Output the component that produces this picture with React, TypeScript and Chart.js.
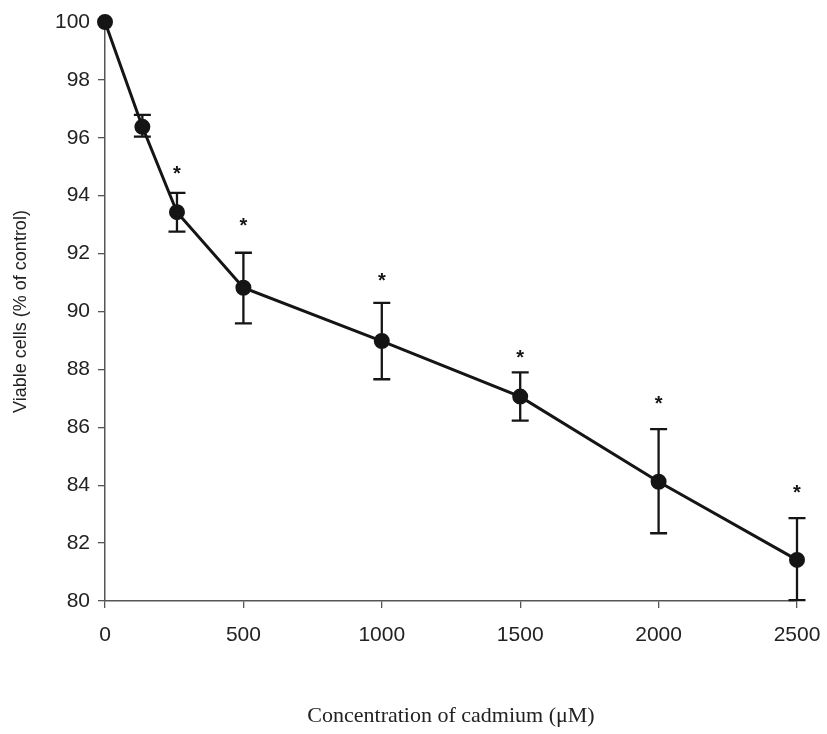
import React, { useEffect, useRef } from "react";
import { Chart, registerables } from "chart.js";

Chart.register(...registerables);

const concentrations = [0, 135, 260, 500, 1000, 1500, 2000, 2500];
const viableCells = [100, 96.38, 93.43, 90.82, 88.98, 87.06, 84.12, 81.42];
const errorHigh = [null, 96.79, 94.1, 92.03, 90.3, 87.9, 85.94, 82.86];
const errorLow = [null, 96.04, 92.76, 89.59, 87.66, 86.23, 82.34, 80.03];
const starMarks = [null, null, 94.89, 93.1, 91.2, 88.55, 86.97, 83.9];
const xTicks = [0, 500, 1000, 1500, 2000, 2500];
const yTicks = [80, 82, 84, 86, 88, 90, 92, 94, 96, 98, 100];

const INK = "#151515";

const errorBarPlugin = {
  id: "errorBars",
  afterDatasetsDraw(chart: any) {
    const { ctx, scales } = chart;
    const xs = scales.x;
    const ys = scales.y;
    ctx.save();
    ctx.strokeStyle = INK;
    ctx.lineWidth = 2.3;
    concentrations.forEach((c, i) => {
      const hi = errorHigh[i];
      const lo = errorLow[i];
      if (hi == null || lo == null) return;
      const x = xs.getPixelForValue(c);
      const yh = ys.getPixelForValue(hi);
      const yl = ys.getPixelForValue(lo);
      ctx.beginPath();
      ctx.moveTo(x, yh);
      ctx.lineTo(x, yl);
      ctx.moveTo(x - 8.5, yh);
      ctx.lineTo(x + 8.5, yh);
      ctx.moveTo(x - 8.5, yl);
      ctx.lineTo(x + 8.5, yl);
      ctx.stroke();
    });
    ctx.fillStyle = INK;
    ctx.font = "bold 20px 'Liberation Sans', Arial, sans-serif";
    ctx.textAlign = "center";
    ctx.textBaseline = "middle";
    concentrations.forEach((c, i) => {
      const s = starMarks[i];
      if (s == null) return;
      const x = xs.getPixelForValue(c);
      const y = ys.getPixelForValue(s);
      ctx.fillText("*", x, y + 5);
    });
    ctx.restore();
  },
};

export default function App() {
  const canvasRef = useRef<HTMLCanvasElement | null>(null);

  useEffect(() => {
    if (!canvasRef.current) return;
    const chart = new Chart(canvasRef.current, {
      type: "line",
      data: {
        datasets: [
          {
            data: concentrations.map((c, i) => ({ x: c, y: viableCells[i] })),
            borderColor: INK,
            backgroundColor: INK,
            borderWidth: 3,
            pointRadius: 6.5,
            pointBackgroundColor: INK,
            pointBorderColor: INK,
            tension: 0,
            clip: false as any,
          },
        ],
      },
      options: {
        animation: false,
        responsive: true,
        maintainAspectRatio: false,
        layout: { padding: { top: 22, right: 30, left: 0, bottom: 0 }, autoPadding: false },
        plugins: { legend: { display: false }, tooltip: { enabled: false } },
        scales: {
          x: {
            type: "linear",
            min: 0,
            max: 2500,
            afterBuildTicks: (scale: any) => {
              scale.ticks = xTicks.map((v) => ({ value: v }));
            },
            afterFit: (scale: any) => {
              scale.height = 133;
              scale.paddingLeft = 0;
              scale.paddingRight = 0;
            },
            grid: {
              display: true,
              drawOnChartArea: false,
              drawTicks: true,
              tickLength: 7,
              color: "#555",
              lineWidth: 1.3,
            },
            border: { display: true, color: "#555", width: 1.5 },
            ticks: {
              color: "#222",
              padding: 15,
              maxRotation: 0,
              callback: (v: any) => String(v),
              font: { family: "'Liberation Sans', Arial, sans-serif", size: 21 },
            },
            title: {
              display: true,
              text: "Concentration of cadmium (\u03bcM)",
              color: "#222",
              padding: { top: 4, bottom: 5 },
              font: { family: "'Liberation Serif', 'Times New Roman', serif", size: 22 },
            },
          },
          y: {
            type: "linear",
            min: 80,
            max: 100,
            afterBuildTicks: (scale: any) => {
              scale.ticks = yTicks.map((v) => ({ value: v }));
            },
            afterFit: (scale: any) => {
              scale.width = 105;
              scale.paddingTop = 0;
              scale.paddingBottom = 0;
            },
            grid: {
              display: true,
              drawOnChartArea: false,
              drawTicks: true,
              tickLength: 7,
              color: "#555",
              lineWidth: 1.3,
            },
            border: { display: true, color: "#555", width: 1.5 },
            ticks: {
              color: "#222",
              padding: 8,
              callback: (v: any) => String(v),
              font: { family: "'Liberation Sans', Arial, sans-serif", size: 21 },
            },
            title: {
              display: true,
              text: "Viable cells (% of control)",
              color: "#222",
              padding: { top: 10, bottom: 4 },
              font: { family: "'Liberation Sans', Arial, sans-serif", size: 18 },
            },
          },
        },
      },
      plugins: [errorBarPlugin],
    });
    return () => chart.destroy();
  }, []);

  return (
    <div
      style={{
        position: "absolute",
        left: 0,
        top: 0,
        width: 827,
        height: 734,
        background: "#fff",
      }}
    >
      <canvas ref={canvasRef} />
    </div>
  );
}
